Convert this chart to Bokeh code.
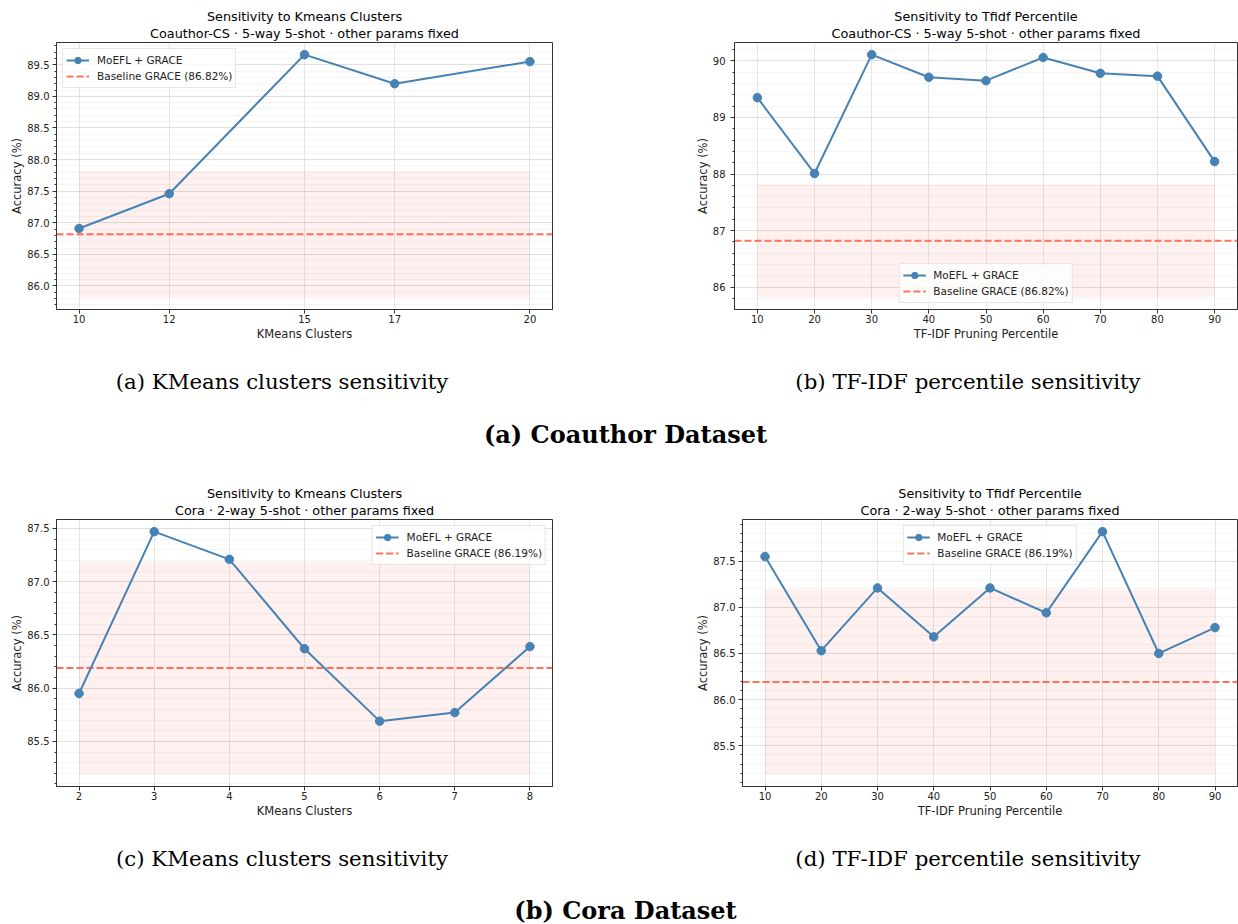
from bokeh.plotting import figure
from bokeh.layouts import column, row
from bokeh.models import (Range1d, FixedTicker, SingleIntervalTicker, NumeralTickFormatter,
                          Title, Legend, LegendItem)
from bokeh.embed import file_html
from bokeh.resources import INLINE
from bokeh.core.properties import value

# ---------------- data ----------------
kmeans_cs_x = [10, 12, 15, 17, 20]
kmeans_cs_y = [86.91, 87.46, 89.66, 89.20, 89.55]

tfidf_cs_x = [10, 20, 30, 40, 50, 60, 70, 80, 90]
tfidf_cs_y = [89.35, 88.01, 90.11, 89.71, 89.65, 90.06, 89.78, 89.73, 88.22]

kmeans_cora_x = [2, 3, 4, 5, 6, 7, 8]
kmeans_cora_y = [85.95, 87.47, 87.21, 86.37, 85.69, 85.77, 86.39]

tfidf_cora_x = [10, 20, 30, 40, 50, 60, 70, 80, 90]
tfidf_cora_y = [87.55, 86.53, 87.21, 86.68, 87.21, 86.94, 87.82, 86.50, 86.78]

baseline_cs = 86.82
baseline_cora = 86.19
band_cs = [85.82, 87.82]
band_cora = [85.19, 87.19]

series_label = "MoEFL + GRACE"
captions_top = ["(a) KMeans clusters sensitivity", "(b) TF-IDF percentile sensitivity"]
captions_bottom = ["(c) KMeans clusters sensitivity", "(d) TF-IDF percentile sensitivity"]
group_top = "(a) Coauthor Dataset"
group_bottom = "(b) Cora Dataset"

BLUE = "#4682B4"
RED = "#FF6347"
AX = "#333333"
SANS = "DejaVu Sans"
SERIF = "DejaVu Serif"


def make_panel(xs, ys, base, band, t1, t2, xlabel, yint, yfmt, loc,
               width, left, right, label_standoff):
    xpad = 0.05 * (max(xs) - min(xs))
    lo = min(min(ys), band[0])
    hi = max(max(ys), band[1])
    ypad = 0.05 * (hi - lo)
    xr = Range1d(min(xs) - xpad, max(xs) + xpad)
    yr = Range1d(lo - ypad, hi + ypad)
    p = figure(width=width, height=350, x_range=xr, y_range=yr,
               output_backend="svg", toolbar_location=None, title=None,
               min_border_left=left, min_border_right=right,
               min_border_top=42, min_border_bottom=41)
    p.background_fill_color = "white"
    p.border_fill_color = "white"
    p.outline_line_color = AX
    p.outline_line_width = 1

    p.add_layout(Title(text=t2, align="center", text_font=SANS, text_font_size="12.8px",
                       text_font_style="normal", text_color="black", standoff=3), "above")
    p.add_layout(Title(text=t1, align="center", text_font=SANS, text_font_size="12.8px",
                       text_font_style="normal", text_color="black", standoff=-2), "above")

    xa = p.xaxis[0]
    ya = p.yaxis[0]
    xt = FixedTicker(ticks=xs)
    yt = SingleIntervalTicker(interval=yint, num_minor_ticks=5)
    xa.ticker = xt
    ya.ticker = yt
    p.xgrid[0].ticker = xt
    p.ygrid[0].ticker = yt
    ya.formatter = NumeralTickFormatter(format=yfmt)
    xa.axis_label = xlabel
    ya.axis_label = "Accuracy (%)"
    for ax in (xa, ya):
        ax.axis_line_color = AX
        ax.major_tick_line_color = AX
        ax.minor_tick_line_color = AX
        ax.major_tick_out = 4
        ax.major_tick_in = 0
        ax.minor_tick_out = 2
        ax.minor_tick_in = 0
        ax.major_label_text_font = SANS
        ax.major_label_text_font_size = "10px"
        ax.major_label_text_color = "#222222"
        ax.axis_label_text_font = SANS
        ax.axis_label_text_font_size = "11.5px"
        ax.axis_label_text_font_style = "normal"
        ax.axis_label_text_color = "#222222"
    xa.major_label_standoff = 1
    xa.axis_label_standoff = 1
    ya.major_label_standoff = label_standoff
    ya.axis_label_standoff = 0
    xa.minor_tick_line_color = None

    for g in (p.xgrid[0], p.ygrid[0]):
        g.grid_line_color = "#b0b0b0"
        g.grid_line_alpha = 0.3
        g.grid_line_width = 1
    p.ygrid[0].minor_grid_line_color = "#b0b0b0"
    p.ygrid[0].minor_grid_line_alpha = 0.13

    n = len(xs)
    p.varea(x=xs, y1=[band[0]] * n, y2=[band[1]] * n, fill_color="red", fill_alpha=0.06)
    r_base = p.line(x=[xr.start, xr.end], y=[base, base], line_color=RED, line_width=2,
                    line_alpha=0.9, line_dash="7 3")
    r_line = p.line(x=xs, y=ys, line_color=BLUE, line_width=2)
    r_pts = p.scatter(x=xs, y=ys, size=8.5, fill_color=BLUE, line_color=BLUE)

    legend = Legend(items=[LegendItem(label=series_label, renderers=[r_line, r_pts]),
                           LegendItem(label="Baseline GRACE (%.2f%%)" % base, renderers=[r_base])],
                    location=loc)
    legend.margin = 6
    legend.padding = 3
    legend.spacing = 0
    legend.glyph_width = 23
    legend.glyph_height = 16
    legend.label_height = 16
    legend.label_standoff = 8
    legend.label_text_font = SANS
    legend.label_text_font_size = "10.5px"
    legend.label_text_color = "#222222"
    legend.border_line_color = "#cccccc"
    legend.border_line_width = 1
    legend.background_fill_alpha = 0.8
    p.add_layout(legend)
    return p


def caption_fig(h, caps, group, y1, y2):
    c = figure(width=1238, height=h, x_range=Range1d(0, 1238), y_range=Range1d(h, 0),
               x_axis_type=None, y_axis_type=None, output_backend="svg",
               toolbar_location=None, title=None, min_border=0)
    c.outline_line_color = None
    c.grid.visible = False
    c.text(x=[281.5, 967.5], y=[y1, y1], text=caps, text_font=value(SERIF),
           text_font_size="21.3px", text_align="center", text_baseline="middle",
           text_color="black")
    c.text(x=[625], y=[y2], text=[group], text_font=value(SERIF), text_font_size="24px",
           text_font_style="bold", text_align="center", text_baseline="middle",
           text_color="black")
    return c


pa = make_panel(kmeans_cs_x, kmeans_cs_y, baseline_cs, band_cs,
                "Sensitivity to Kmeans Clusters",
                "Coauthor-CS \u00b7 5-way 5-shot \u00b7 other params fixed",
                "KMeans Clusters", 0.5, "0.0", "top_left", 685, 56, 133, 3)
pb = make_panel(tfidf_cs_x, tfidf_cs_y, baseline_cs, band_cs,
                "Sensitivity to Tfidf Percentile",
                "Coauthor-CS \u00b7 5-way 5-shot \u00b7 other params fixed",
                "TF-IDF Pruning Percentile", 1, "0", "bottom_center", 553, 49, 1, 5)
pc = make_panel(kmeans_cora_x, kmeans_cora_y, baseline_cora, band_cora,
                "Sensitivity to Kmeans Clusters",
                "Cora \u00b7 2-way 5-shot \u00b7 other params fixed",
                "KMeans Clusters", 0.5, "0.0", "top_right", 685, 56, 133, 3)
pd_ = make_panel(tfidf_cora_x, tfidf_cora_y, baseline_cora, band_cora,
                 "Sensitivity to Tfidf Percentile",
                 "Cora \u00b7 2-way 5-shot \u00b7 other params fixed",
                 "TF-IDF Pruning Percentile", 0.5, "0.0", "top_center", 553, 57, 1, 3)

cap1 = caption_fig(127, captions_top, group_top, 31, 84)
cap2 = caption_fig(97, captions_bottom, group_bottom, 31, 83)

layout = column(row(pa, pb), cap1, row(pc, pd_), cap2)

open("out.html", "w").write(file_html(layout, INLINE, title="Sensitivity"))
